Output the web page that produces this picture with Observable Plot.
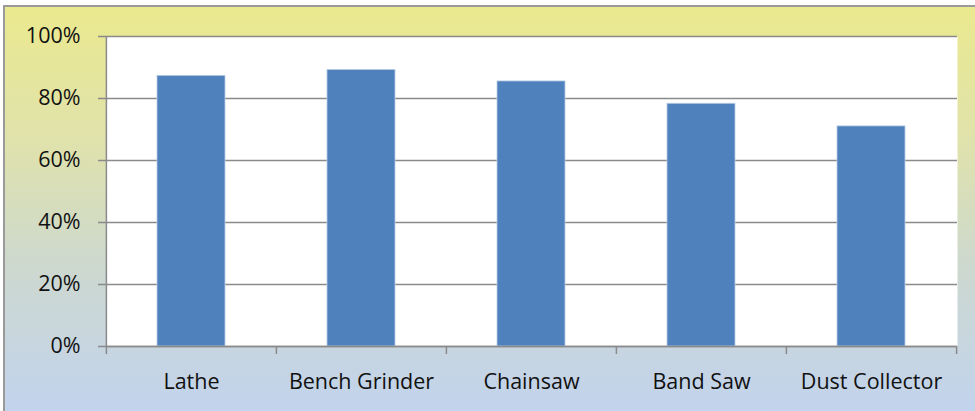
<!DOCTYPE html>
<html>
<head>
<meta charset="utf-8">
<script src="https://cdn.jsdelivr.net/npm/d3@7"></script>
<script src="https://cdn.jsdelivr.net/npm/@observablehq/plot@0.6"></script>
<style>
  html, body { margin: 0; padding: 0; background: #ffffff; overflow: hidden; }
  #chart {
    position: relative;
    width: 975px; height: 411px;
    background: linear-gradient(to bottom, #ffffff 0px, #ffffff 5px, #ebe98e 5px, #dfe2ac 35%, #cdd8cf 65%, #c2d3ed 100%);
    overflow: hidden;
  }
  #chart::before {
    content: "";
    position: absolute;
    left: 3px; top: 5px; right: -5px; bottom: -5px;
    border-top: 2px solid #9a9a9a;
    border-left: 2px solid #9a9a9a;
  }
  #chart::after {
    content: "";
    position: absolute;
    left: 0; top: 0; width: 3px; height: 411px;
    background: #ffffff;
  }
  #chart svg { position: absolute; left: 0; top: 0; }
</style>
</head>
<body>
<div id="chart"></div>
<script>
const categories = ["Lathe", "Bench Grinder", "Chainsaw", "Band Saw", "Dust Collector"];
const values = [0.873, 0.892, 0.855, 0.783, 0.710];
const yTicks = [0, 0.2, 0.4, 0.6, 0.8, 1.0];

const data = categories.map((c, i) => ({category: c, value: values[i]}));

const W = 975, H = 411;
const mL = 106, mR = 18, mT = 36, mB = 65;
const step = (W - mL - mR) / categories.length;
const axisGray = "#8a8a8a";

const plot = Plot.plot({
  width: W,
  height: H,
  marginLeft: mL,
  marginRight: mR,
  marginTop: mT,
  marginBottom: mB,
  style: {background: "transparent", fontFamily: "'Open Sans', Lato, sans-serif", fontSize: "21.5px", color: "#111"},
  x: {domain: categories, paddingInner: 0.6, paddingOuter: 0.3, label: null},
  y: {domain: [0, 1], label: null},
  marks: [
    Plot.frame({fill: "white", stroke: null}),
    Plot.gridY(yTicks, {stroke: axisGray, strokeOpacity: 1, strokeWidth: 1.5}),
    Plot.barY(data, {x: "category", y: "value", fill: "#4f81bd", stroke: "#b9cde6", strokeWidth: 0.8}),
    Plot.ruleX([categories[0]], {x: d => d, stroke: axisGray, strokeWidth: 1.5, dx: -step / 2, y1: 0, y2: 1}),
    Plot.ruleY([0], {stroke: axisGray, strokeWidth: 1.5}),
    Plot.ruleX(categories, {x: d => d, dx: -step / 2, y1: 0, y2: 0, insetBottom: -8, stroke: axisGray, strokeWidth: 1.5}),
    Plot.ruleX([categories[categories.length - 1]], {x: d => d, dx: step / 2, y1: 0, y2: 0, insetBottom: -8, stroke: axisGray, strokeWidth: 1.5}),
    Plot.axisY({ticks: yTicks, tickFormat: d => Math.round(d * 100) + "%", tickSize: 8, tickPadding: 18, stroke: axisGray, strokeWidth: 1.5, fontSize: 21.5}),
    Plot.axisX({tickSize: 0, tickPadding: 27, fontSize: 21.5})
  ]
});
document.getElementById("chart").appendChild(plot);
</script>
</body>
</html>
